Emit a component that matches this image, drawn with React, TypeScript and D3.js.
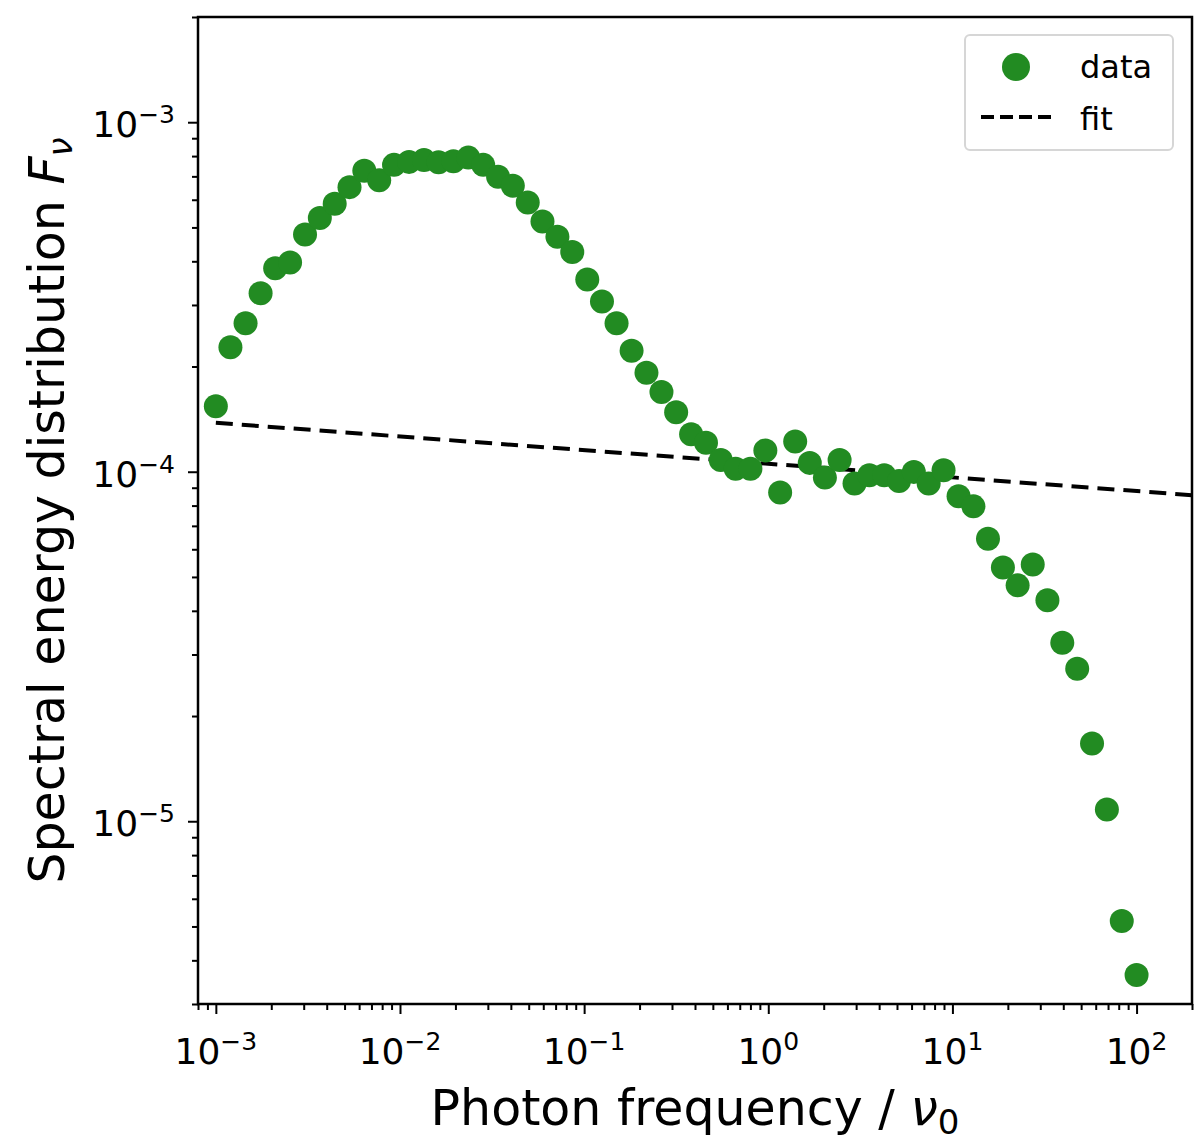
import React from 'react';
import * as d3 from 'd3';

// photon frequency (units of nu_0)
const nu = [
  0.001, 0.0012, 0.00145, 0.00175, 0.0021, 0.00253, 0.00305, 0.00367, 0.00442, 0.00532,
  0.0064, 0.00771, 0.00928, 0.0112, 0.0135, 0.0162, 0.0195, 0.0235, 0.0283, 0.0341,
  0.041, 0.0494, 0.0594, 0.0716, 0.0862, 0.104, 0.125, 0.15, 0.181, 0.218,
  0.263, 0.316, 0.381, 0.459, 0.552, 0.665, 0.8, 0.964, 1.16, 1.4,
  1.68, 2.03, 2.44, 2.94, 3.54, 4.26, 5.13, 6.17, 7.43, 8.95,
  10.8, 13.0, 15.6, 18.8, 22.6, 27.3, 32.8, 39.5, 47.6, 57.3,
  69.0, 83.1, 100,
];

// spectral energy distribution F_nu
const fnu = [
  1.54e-4, 2.27e-4, 2.66e-4, 3.24e-4, 3.82e-4, 3.97e-4, 4.77e-4, 5.32e-4, 5.84e-4, 6.52e-4,
  7.26e-4, 6.82e-4, 7.55e-4, 7.7e-4, 7.79e-4, 7.68e-4, 7.73e-4, 7.92e-4, 7.55e-4, 6.98e-4,
  6.58e-4, 5.89e-4, 5.2e-4, 4.7e-4, 4.25e-4, 3.55e-4, 3.07e-4, 2.66e-4, 2.22e-4, 1.92e-4,
  1.69e-4, 1.48e-4, 1.28e-4, 1.21e-4, 1.08e-4, 1.02e-4, 1.02e-4, 1.15e-4, 8.72e-5, 1.22e-4,
  1.06e-4, 9.62e-5, 1.08e-4, 9.25e-5, 9.77e-5, 9.77e-5, 9.41e-5, 9.99e-5, 9.25e-5, 1.01e-4,
  8.51e-5, 7.96e-5, 6.43e-5, 5.32e-5, 4.73e-5, 5.43e-5, 4.29e-5, 3.24e-5, 2.73e-5, 1.67e-5,
  1.08e-5, 5.18e-6, 3.63e-6,
];

// power-law fit, end points
const fitNu = [0.001, 200];
const fitF = [1.38e-4, 8.57e-5];

const xMajor = [1e-3, 1e-2, 1e-1, 1, 10, 100];
const xMajorExp = ['\u22123', '\u22122', '\u22121', '0', '1', '2'];
const yMajor = [1e-3, 1e-4, 1e-5];
const yMajorExp = ['\u22123', '\u22124', '\u22125'];

class SedChart extends React.Component {
  node: SVGSVGElement | null = null;

  componentDidMount() {
    this.draw();
  }

  draw() {
    var width = 1200, height = 1141;
    var margin = { left: 198, right: 8, top: 17, bottom: 137 };
    var green = '#228b22';
    var font = 'DejaVu Sans, sans-serif';

    var svg = d3.select(this.node);
    svg.selectAll('*').remove();

    var x = d3.scaleLog().domain([8e-4, 200]).range([margin.left, width - margin.right]);
    var y = d3.scaleLog().domain([3e-6, 2e-3]).range([height - margin.bottom, margin.top]);

    var minors = function (lo: number, hi: number, dom: number[]) {
      var out: number[] = [];
      for (var e = lo; e <= hi; e++) {
        for (var m = 2; m <= 9; m++) {
          var v = m * Math.pow(10, e);
          if (v >= dom[0] * 0.999 && v <= dom[1] * 1.001) out.push(v);
        }
      }
      return out;
    };

    svg.append('defs').append('clipPath').attr('id', 'plotclip')
      .append('rect')
      .attr('x', margin.left).attr('y', margin.top)
      .attr('width', width - margin.left - margin.right)
      .attr('height', height - margin.top - margin.bottom);

    // ticks
    var gx = svg.append('g').attr('transform', 'translate(0,' + (height - margin.bottom) + ')');
    gx.call(d3.axisBottom(x).tickValues(xMajor).tickSize(10).tickFormat(() => '') as any);
    gx.append('g').call(d3.axisBottom(x).tickValues(minors(-4, 2, x.domain())).tickSize(6).tickFormat(() => '') as any);
    var gy = svg.append('g').attr('transform', 'translate(' + margin.left + ',0)');
    gy.call(d3.axisLeft(y).tickValues(yMajor).tickSize(10).tickFormat(() => '') as any);
    gy.append('g').call(d3.axisLeft(y).tickValues(minors(-6, -3, y.domain())).tickSize(6).tickFormat(() => '') as any);
    svg.selectAll('.domain').remove();
    svg.selectAll('.tick line').attr('stroke', '#000').attr('stroke-width', 2);

    // tick labels
    var xl = svg.append('g').attr('font-family', font).attr('fill', '#000');
    xMajor.forEach(function (v, i) {
      var t = xl.append('text').attr('x', x(v)).attr('y', 1064).attr('text-anchor', 'middle').attr('font-size', 36);
      t.append('tspan').text('10');
      t.append('tspan').attr('dy', -14).attr('font-size', 25).text(xMajorExp[i]);
    });
    yMajor.forEach(function (v, i) {
      var t = xl.append('text').attr('x', 175).attr('y', y(v) + 15).attr('text-anchor', 'end').attr('font-size', 36);
      t.append('tspan').text('10');
      t.append('tspan').attr('dy', -14).attr('font-size', 25).text(yMajorExp[i]);
    });

    // fit line
    var line = d3.line<number>().x((d, i) => x(fitNu[i])).y((d) => y(d));
    svg.append('path')
      .attr('clip-path', 'url(#plotclip)')
      .attr('d', line(fitF))
      .attr('fill', 'none')
      .attr('stroke', '#000')
      .attr('stroke-width', 4)
      .attr('stroke-dasharray', '17,9');

    // data points
    svg.append('g').attr('clip-path', 'url(#plotclip)')
      .selectAll('circle')
      .data(fnu)
      .enter()
      .append('circle')
      .attr('cx', (d, i) => x(nu[i]))
      .attr('cy', (d) => y(d))
      .attr('r', 12)
      .attr('fill', green);

    // frame
    svg.append('rect')
      .attr('x', margin.left).attr('y', margin.top)
      .attr('width', width - margin.left - margin.right)
      .attr('height', height - margin.top - margin.bottom)
      .attr('fill', 'none').attr('stroke', '#000').attr('stroke-width', 2.5);

    // axis labels
    var xt = svg.append('text')
      .attr('x', (margin.left + width - margin.right) / 2)
      .attr('y', 1125)
      .attr('text-anchor', 'middle')
      .attr('font-family', font).attr('font-size', 49);
    xt.append('tspan').text('Photon frequency / ');
    xt.append('tspan').attr('font-style', 'italic').text('\u03bd');
    xt.append('tspan').attr('font-size', 34).attr('dy', 9).text('0');

    var yt = svg.append('text')
      .attr('transform', 'translate(64,' + (margin.top + height - margin.bottom) / 2 + ') rotate(-90)')
      .attr('text-anchor', 'middle')
      .attr('font-family', font).attr('font-size', 49);
    yt.append('tspan').text('Spectral energy distribution ');
    yt.append('tspan').attr('font-style', 'italic').text('F');
    yt.append('tspan').attr('font-style', 'italic').attr('font-size', 34).attr('dy', 8).text('\u03bd');

    // legend
    var lg = svg.append('g').attr('font-family', font);
    lg.append('rect')
      .attr('x', 965).attr('y', 35).attr('width', 208).attr('height', 115)
      .attr('rx', 5).attr('fill', '#fff').attr('fill-opacity', 0.8)
      .attr('stroke', '#d6d6d6').attr('stroke-width', 2);
    lg.append('circle').attr('cx', 1016).attr('cy', 67).attr('r', 14).attr('fill', green);
    lg.append('line')
      .attr('x1', 981).attr('x2', 1051).attr('y1', 117).attr('y2', 117)
      .attr('stroke', '#000').attr('stroke-width', 4).attr('stroke-dasharray', '13,6');
    lg.append('text').attr('x', 1080).attr('y', 78).attr('font-size', 32).text('data');
    lg.append('text').attr('x', 1080).attr('y', 130).attr('font-size', 32).text('fit');
  }

  render() {
    return (
      <svg
        ref={(el) => { this.node = el; }}
        width={1200}
        height={1141}
        style={{ position: 'absolute', left: 0, top: 0, background: '#fff' }}
      />
    );
  }
}

export default function App() {
  return <SedChart />;
}
